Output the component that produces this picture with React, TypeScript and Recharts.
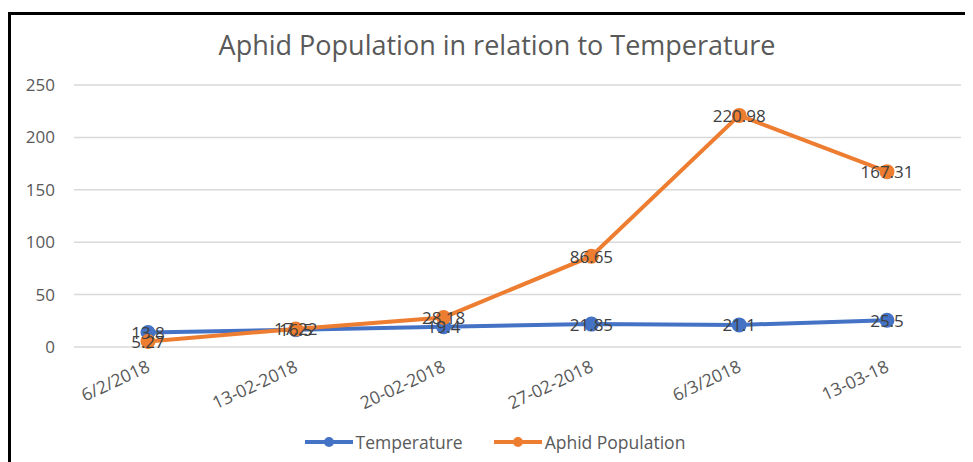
import React from 'react';
import {
  LineChart,
  Line,
  XAxis,
  YAxis,
  CartesianGrid,
  Legend,
  LabelList,
} from 'recharts';

const dates = ['6/2/2018', '13-02-2018', '20-02-2018', '27-02-2018', '6/3/2018', '13-03-18'];
const temperature = [13.8, 16.5, 19.4, 21.85, 21.1, 25.5];
const aphids = [5.27, 17.22, 28.18, 86.65, 220.98, 167.31];
const yTicks = [0, 50, 100, 150, 200, 250];

const BLUE = '#4472C4';
const ORANGE = '#ED7D31';
const GREY = '#595959';
const FONT = '"Open Sans", "Noto Sans", sans-serif';

const data = dates.map((d, i) => ({
  date: d,
  temperature: temperature[i],
  aphids: aphids[i],
}));

function DateTick(props: any) {
  const { x, y, payload } = props;
  return (
    <g transform={`translate(${x - 2},${y + 5})`}>
      <text
        x={0}
        y={0}
        dy={12}
        textAnchor="end"
        transform="rotate(-25)"
        fill={GREY}
        fontSize={17.5}
        fontFamily={FONT}
      >
        {payload.value}
      </text>
    </g>
  );
}

function PointLabel(props: any) {
  const { x, y, value } = props;
  return (
    <text
      x={x}
      y={y}
      textAnchor="middle"
      dominantBaseline="central"
      fill="#404040"
      fontSize={17}
      fontFamily={FONT}
    >
      {value}
    </text>
  );
}

function LegendContent() {
  const items = [
    { name: 'Temperature', color: BLUE },
    { name: 'Aphid Population', color: ORANGE },
  ];
  return (
    <div
      style={{
        display: 'flex',
        justifyContent: 'center',
        gap: 30,
        paddingLeft: 20,
        paddingTop: 8,
        fontFamily: FONT,
        fontSize: 17.5,
        color: GREY,
      }}
    >
      {items.map((it) => (
        <div key={it.name} style={{ display: 'flex', alignItems: 'center' }}>
          <svg width={50} height={14}>
            <line x1={1} y1={7} x2={49} y2={7} stroke={it.color} strokeWidth={4} />
            <circle cx={25} cy={7} r={5} fill={it.color} />
          </svg>
          <span style={{ marginLeft: 2 }}>{it.name}</span>
        </div>
      ))}
    </div>
  );
}

export default function App() {
  return (
    <div style={{ position: 'relative', width: 965, height: 454, background: '#fff' }}>
      <div
        style={{
          position: 'absolute',
          left: 0,
          top: 4,
          width: 965,
          height: 460,
          borderLeft: '3px solid #000',
          borderTop: '3px solid #000',
        }}
      />
      <div
        style={{
          position: 'absolute',
          left: 0,
          top: 18,
          width: 978,
          textAlign: 'center',
          fontFamily: FONT,
          fontSize: 27,
          color: GREY,
        }}
      >
        Aphid Population in relation to Temperature
      </div>
      <div style={{ position: 'absolute', left: 0, top: 0 }}>
        <LineChart
          width={965}
          height={454}
          data={data}
          margin={{ top: 77, right: 12, bottom: 0, left: 0 }}
        >
          <CartesianGrid vertical={false} stroke="#d9d9d9" strokeWidth={1.5} />
          <XAxis
            dataKey="date"
            axisLine={false}
            tickLine={false}
            height={75}
            interval={0}
            padding={{ left: 74, right: 74 }}
            tick={<DateTick />}
          />
          <YAxis
            domain={[0, 250]}
            ticks={yTicks}
            axisLine={false}
            tickLine={false}
            width={66}
            tick={{ fill: GREY, fontSize: 17, fontFamily: FONT, dx: -11 }}
          />
          <Legend verticalAlign="bottom" height={40} content={<LegendContent />} />
          <Line
            type="linear"
            dataKey="temperature"
            name="Temperature"
            stroke={BLUE}
            strokeWidth={4}
            dot={{ r: 5.5, fill: BLUE, stroke: BLUE }}
            isAnimationActive={false}
          >
            <LabelList dataKey="temperature" content={<PointLabel />} />
          </Line>
          <Line
            type="linear"
            dataKey="aphids"
            name="Aphid Population"
            stroke={ORANGE}
            strokeWidth={4}
            dot={{ r: 5.5, fill: ORANGE, stroke: ORANGE }}
            isAnimationActive={false}
          >
            <LabelList dataKey="aphids" content={<PointLabel />} />
          </Line>
        </LineChart>
      </div>
    </div>
  );
}
